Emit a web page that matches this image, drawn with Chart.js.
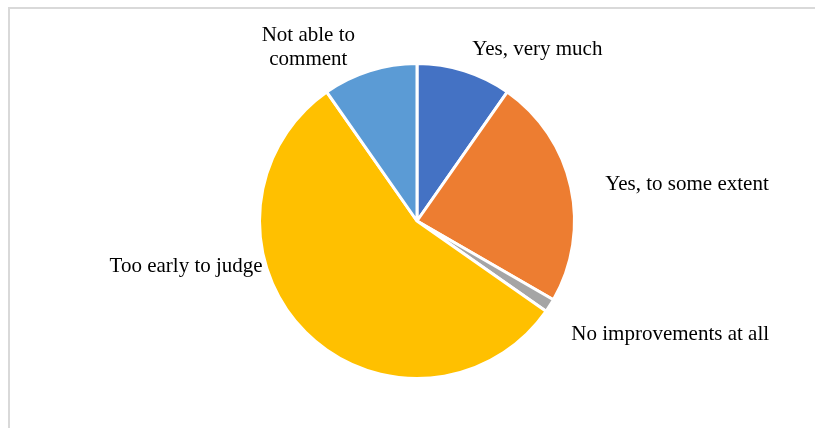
<!DOCTYPE html>
<html>
<head>
<meta charset="utf-8">
<script src="https://cdn.jsdelivr.net/npm/chart.js@4/dist/chart.umd.min.js"></script>
<style>
  html, body { margin: 0; padding: 0; background: #fff; overflow: hidden; }
  .frame {
    position: absolute; left: 8px; top: 7px;
    width: 900px; height: 500px;
    border: 2px solid #d9d9d9;
  }
  #pie { position: absolute; left: 0; top: 0; }
</style>
</head>
<body>
<div class="frame"></div>
<canvas id="pie" width="815" height="428"></canvas>
<script>
// Survey answers, clockwise from 12 o'clock
const answers = ['Yes, very much', 'Yes, to some extent', 'No improvements at all', 'Too early to judge', 'Not able to comment'];
const responses = [7, 17, 1, 40, 7];
const sliceColors = ['#4472C4', '#ED7D31', '#A5A5A5', '#FFC000', '#5B9BD5'];

// Label text lines and where they sit, in units of the pie radius from its centre
const labelLines = [['Yes, very much'], ['Yes, to some extent'], ['No improvements at all'], ['Too early to judge'], ['Not able to', 'comment']];
const labelAnchor = [
    { dx: 0.350, dy: -1.055, align: 'left' },
    { dx: 1.195, dy: -0.200, align: 'left' },
    { dx: 0.980, dy: 0.757, align: 'left' },
    { dx: -0.980, dy: 0.323, align: 'right' },
    { dx: -0.690, dy: -1.145, align: 'center' }
];

// Draw the category names next to each slice
const sliceLabels = {
    id: 'sliceLabels',
    afterDraw(chart) {
        const ctx = chart.ctx;
        const arcs = chart.getDatasetMeta(0).data;
        ctx.save();
        ctx.fillStyle = '#000';
        ctx.font = '21px "Liberation Serif", "Times New Roman", serif';
        ctx.textBaseline = 'alphabetic';
        arcs.forEach((arc, i) => {
            const r = arc.outerRadius;
            const a = labelAnchor[i];
            ctx.textAlign = a.align;
            labelLines[i].forEach((line, j) => {
                ctx.fillText(line, arc.x + a.dx * r, arc.y + a.dy * r + j * 24);
            });
        });
        ctx.restore();
    }
};

const ctx = document.getElementById('pie').getContext('2d');
new Chart(ctx, {
    type: 'pie',
    data: {
        labels: answers,
        datasets: [{
            data: responses,
            backgroundColor: sliceColors,
            borderColor: '#ffffff',
            borderWidth: 3
        }]
    },
    options: {
        responsive: false,
        animation: false,
        layout: {
            padding: { left: 19, right: 0, top: 62, bottom: 48 }
        },
        plugins: {
            legend: { display: false },
            tooltip: { enabled: false }
        }
    },
    plugins: [sliceLabels]
});
</script>
</body>
</html>
